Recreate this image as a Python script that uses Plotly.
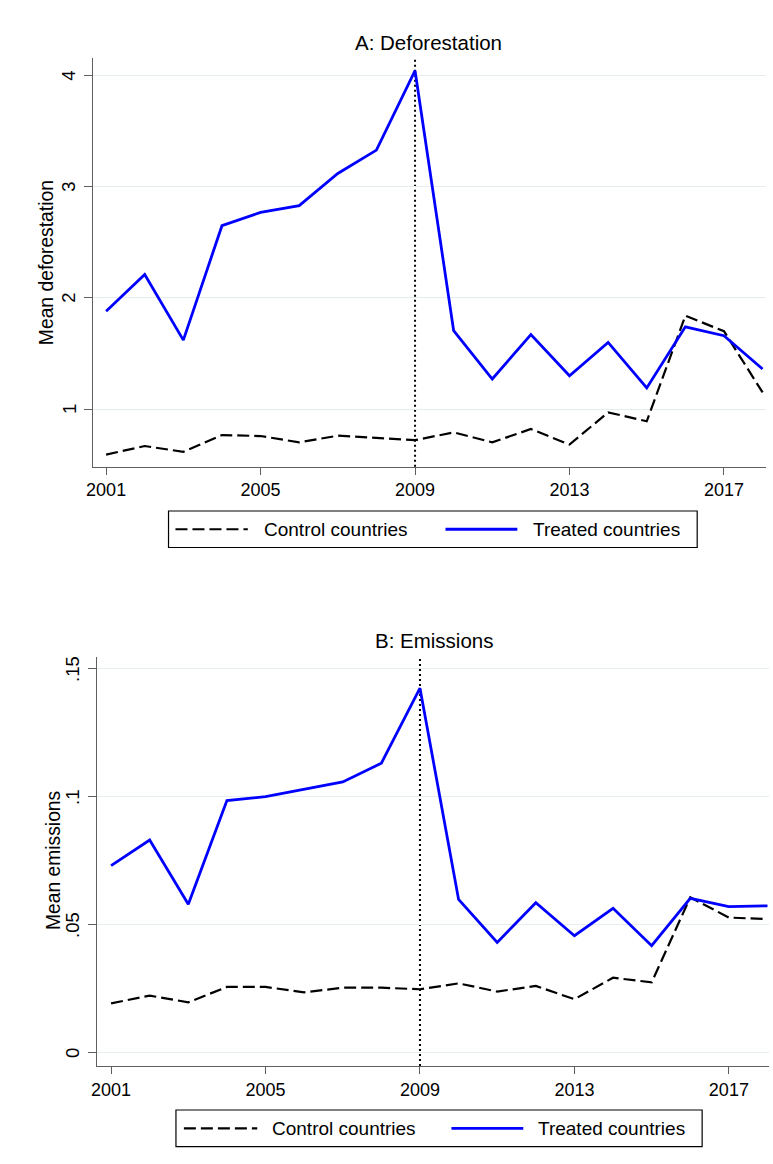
import plotly.graph_objects as go

# Yearly means for treated and control countries
years = list(range(2001, 2019))

defor_control = [0.59, 0.667, 0.615, 0.766, 0.757, 0.70, 0.76, 0.74, 0.72,
                 0.79, 0.70, 0.82, 0.68, 0.97, 0.89, 1.84, 1.70, 1.15]
defor_treated = [1.88, 2.21, 1.62, 2.65, 2.77, 2.83, 3.12, 3.33, 4.045,
                 1.705, 1.27, 1.67, 1.30, 1.60, 1.19, 1.74, 1.66, 1.36]

emis_control = [0.0194, 0.0224, 0.0198, 0.0258, 0.0258, 0.0237, 0.0255, 0.0255, 0.0249,
                0.0272, 0.0240, 0.0262, 0.0210, 0.0294, 0.0276, 0.0608, 0.0529, 0.0523]
emis_treated = [0.0732, 0.0832, 0.0581, 0.0986, 0.1001, 0.1031, 0.1059, 0.1132, 0.1425,
                0.0600, 0.0432, 0.0587, 0.0458, 0.0565, 0.0419, 0.0604, 0.0572, 0.0575]

x_ticks = [2001, 2005, 2009, 2013, 2017]
defor_ticks = [1, 2, 3, 4]
defor_ticklabels = ["1", "2", "3", "4"]
emis_ticks = [0, 0.05, 0.10, 0.15]
emis_ticklabels = ["0", ".05", ".1", ".15"]

series_names = ["Control countries", "Treated countries"]
treatment_year = 2009

W, H = 773, 1164
FONT = "Liberation Sans, Arial, Helvetica, sans-serif"
GRID = "#e6edf0"
AXIS = "#5f5f5f"
BLUE = "#0000ff"
DASH = "12px,5px"


def px_x(v):
    return v / W


def px_y(v):
    return 1 - v / H


fig = go.Figure()

panels = [
    ("x", "y", defor_control, defor_treated),
    ("x2", "y2", emis_control, emis_treated),
]
for xa, ya, ctrl, trt in panels:
    fig.add_trace(go.Scatter(x=years, y=ctrl, mode="lines", xaxis=xa, yaxis=ya,
                             name=series_names[0], showlegend=False,
                             line=dict(color="black", width=2.2, dash=DASH)))
    fig.add_trace(go.Scatter(x=years, y=trt, mode="lines", xaxis=xa, yaxis=ya,
                             name=series_names[1], showlegend=False,
                             line=dict(color=BLUE, width=2.8)))

xaxis_common = dict(
    tickmode="array", tickvals=x_ticks, ticktext=[str(t) for t in x_ticks],
    ticks="outside", ticklen=7, tickwidth=1.2, tickcolor=AXIS,
    showline=True, linecolor=AXIS, linewidth=1.3,
    showgrid=False, zeroline=False,
    tickfont=dict(family=FONT, size=18, color="black"),
)
# Vertical (rotated) y tick labels are written as annotations pinned to the y scale
yaxis_common = dict(
    tickmode="array", ticks="outside", ticklen=8, tickwidth=1.2, tickcolor=AXIS,
    showline=True, linecolor=AXIS, linewidth=1.3,
    showgrid=True, gridcolor=GRID, gridwidth=1.3, zeroline=False,
    showticklabels=False,
)

fig.update_layout(
    width=W, height=H,
    margin=dict(l=0, r=0, t=0, b=0),
    paper_bgcolor="white", plot_bgcolor="white",
    showlegend=False,
    xaxis=dict(xaxis_common, domain=[px_x(87), px_x(766)], range=[2000.666, 2018.09], anchor="y"),
    yaxis=dict(yaxis_common, domain=[px_y(466.7), px_y(57.7)], range=[0.481, 4.162],
               tickvals=defor_ticks, anchor="x"),
    xaxis2=dict(xaxis_common, domain=[px_x(91), px_x(769)], range=[2000.64, 2018.04], anchor="y2"),
    yaxis2=dict(yaxis_common, domain=[px_y(1066), px_y(656.7)], range=[-0.00508, 0.1548],
                tickvals=emis_ticks, anchor="x2"),
)

shapes = []
annotations = []

# Rotated y tick labels
for yref, vals, labels, cx in [("y", defor_ticks, defor_ticklabels, 62.5),
                               ("y2", emis_ticks, emis_ticklabels, 66.5)]:
    for v, lab in zip(vals, labels):
        annotations.append(dict(text=lab, xref="paper", yref=yref, x=px_x(cx), y=v,
                                xanchor="center", yanchor="middle", showarrow=False,
                                textangle=-90,
                                font=dict(family=FONT, size=18.5, color="black")))

# Dotted reference line at the treatment year in each panel
for xref, yref in [("x", "y domain"), ("x2", "y2 domain")]:
    shapes.append(dict(type="line", xref=xref, yref=yref, x0=treatment_year, x1=treatment_year,
                       y0=0, y1=1, line=dict(color="black", width=2, dash="2px,3px"), layer="below"))

# Panel titles and y-axis titles
for text, cx, cy in [("A: Deforestation", 425.5, 43), ("B: Emissions", 431, 640.5)]:
    annotations.append(dict(text=text, xref="paper", yref="paper", x=px_x(cx), y=px_y(cy),
                            xanchor="center", yanchor="middle", showarrow=False,
                            font=dict(family=FONT, size=20.5, color="black")))
for text, cx, cy in [("Mean deforestation", 40, 262.5), ("Mean emissions", 46.5, 861)]:
    annotations.append(dict(text=text, xref="paper", yref="paper", x=px_x(cx), y=px_y(cy),
                            xanchor="center", yanchor="middle", showarrow=False, textangle=-90,
                            font=dict(family=FONT, size=19.3, color="black")))

# Boxed legends beneath each panel
legend_specs = [
    # box x0, x1, y0, y1, dashed sample x0, x1, ctrl text x, solid sample x0, x1, treated text x
    (163, 696.5, 511, 547.5, 170, 243, 257, 442.5, 515, 529),
    (170.5, 701.5, 1110, 1146.7, 178.5, 252.5, 265, 448.5, 521, 534),
]
for bx0, bx1, by0, by1, d0, d1, tc, s0, s1, tt in legend_specs:
    cy = (by0 + by1) / 2
    shapes.append(dict(type="rect", xref="paper", yref="paper",
                       x0=px_x(bx0), x1=px_x(bx1), y0=px_y(by1), y1=px_y(by0),
                       line=dict(color="black", width=1.2), fillcolor="white"))
    shapes.append(dict(type="line", xref="paper", yref="paper",
                       x0=px_x(d0), x1=px_x(d1), y0=px_y(cy), y1=px_y(cy),
                       line=dict(color="black", width=2.2, dash=DASH)))
    shapes.append(dict(type="line", xref="paper", yref="paper",
                       x0=px_x(s0), x1=px_x(s1), y0=px_y(cy), y1=px_y(cy),
                       line=dict(color=BLUE, width=2.8)))
    for text, tx in [(series_names[0], tc), (series_names[1], tt)]:
        annotations.append(dict(text=text, xref="paper", yref="paper", x=px_x(tx), y=px_y(cy),
                                xanchor="left", yanchor="middle", showarrow=False,
                                font=dict(family=FONT, size=19, color="black")))

fig.update_layout(shapes=shapes, annotations=annotations)

fig.write_html("out.html")
